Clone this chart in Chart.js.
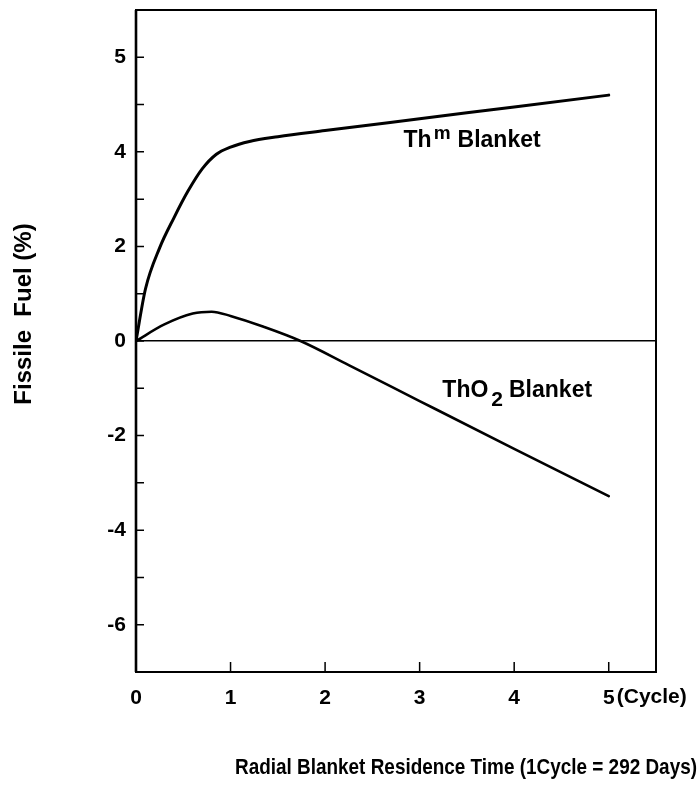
<!DOCTYPE html>
<html>
<head>
<meta charset="utf-8">
<script src="https://cdn.jsdelivr.net/npm/chart.js@4"></script>
<style>
  html, body { margin: 0; background: #fff; }
</style>
</head>
<body>
<canvas id="chart" width="700" height="786"></canvas>
<script>
// Fissile fuel (%) against radial blanket residence time (cycles)

// Th metal blanket curve
const thmCycles = [0, 0.1, 0.25, 0.4, 0.55, 0.7, 0.85, 1.0, 1.2, 1.5, 2, 3, 4, 5]
const thmFuel = [0, 1.1, 1.97, 2.6, 3.17, 3.64, 3.95, 4.1, 4.22, 4.32, 4.45, 4.7, 4.95, 5.2]

// ThO2 blanket curve
const tho2Cycles = [0, 0.3, 0.6, 0.8, 1.0, 1.35, 1.74, 2.25, 3, 4, 5]
const tho2Fuel = [0, 0.35, 0.58, 0.62, 0.53, 0.3, 0, -0.51, -1.27, -2.28, -3.28]

// Axis ticks and the labels printed next to them
const xTicks = [0, 1, 2, 3, 4, 5]
const yTicks = [-6, -5, -4, -3, -2, -1, 0, 1, 2, 3, 4, 5, 6]
const yTickLabels = { "-6": "-6", "-4": "-4", "-2": "-2", "0": "0", "2": "2", "4": "4", "6": "5" }

const FONT = "'Liberation Sans', Arial, sans-serif"

const toPoints = (xs, ys) => xs.map((x, i) => ({ x: x, y: ys[i] }))

// Draws the frame, inward tick marks and all the lettering
const paperPlugin = {
  id: "paper",
  afterDatasetsDraw(chart) {
    const ctx = chart.ctx
    const a = chart.chartArea
    const x = chart.scales.x
    const y = chart.scales.y
    ctx.save()
    ctx.strokeStyle = "#000"
    ctx.lineWidth = 2
    ctx.strokeRect(a.left, a.top, a.right - a.left, a.bottom - a.top)
    ctx.lineWidth = 2.6
    ctx.beginPath()
    ctx.moveTo(a.left, a.top)
    ctx.lineTo(a.left, a.bottom)
    ctx.stroke()

    // tick marks pointing into the plot
    ctx.lineWidth = 1.5
    ctx.beginPath()
    for (const v of yTicks) {
      const p = y.getPixelForValue(v)
      ctx.moveTo(a.left, p)
      ctx.lineTo(a.left + 8, p)
    }
    for (const v of xTicks) {
      if (v === 0) continue
      const p = x.getPixelForValue(v)
      ctx.moveTo(p, a.bottom)
      ctx.lineTo(p, a.bottom - 10)
    }
    ctx.stroke()

    ctx.fillStyle = "#000"
    ctx.textBaseline = "middle"
    ctx.textAlign = "left"

    // "(Cycle)" after the last x tick label
    ctx.font = "bold 21px " + FONT
    ctx.fillText("(Cycle)", x.getPixelForValue(5) + 8, a.bottom + 25)

    // curve labels
    const drawLabel = (parts, px, py) => {
      let cx = px
      for (const part of parts) {
        ctx.font = "bold " + (part.size || 23) + "px " + FONT
        ctx.fillText(part.text, cx, py + (part.shift || 0))
        cx += ctx.measureText(part.text).width + (part.gap || 0)
      }
    }
    drawLabel([{ text: "Th", gap: 2 }, { text: "m", size: 19, shift: -7, gap: 7 }, { text: "Blanket" }],
      x.getPixelForValue(2.83), y.getPixelForValue(4.23))
    drawLabel([{ text: "ThO", gap: 3 }, { text: "2", size: 21, shift: 9, gap: 6 }, { text: "Blanket" }],
      x.getPixelForValue(3.24), y.getPixelForValue(-1.06))

    // axis titles
    ctx.font = "bold 22px " + FONT
    ctx.fillText("Radial Blanket Residence Time (1Cycle = 292 Days)", 235, 768, 462)

    ctx.translate(24, 314)
    ctx.rotate(-Math.PI / 2)
    ctx.textAlign = "center"
    ctx.font = "bold 24px " + FONT
    ctx.fillText("Fissile  Fuel (%)", 0, 0)
    ctx.restore()
  }
}

new Chart(document.getElementById("chart"), {
  type: "line",
  plugins: [paperPlugin],
  data: {
    datasets: [
      {
        label: "Thm Blanket",
        data: toPoints(thmCycles, thmFuel),
        borderColor: "#000",
        borderWidth: 3,
        pointRadius: 0,
        cubicInterpolationMode: "monotone",
        borderCapStyle: "round"
      },
      {
        label: "ThO2 Blanket",
        data: toPoints(tho2Cycles, tho2Fuel),
        borderColor: "#000",
        borderWidth: 2.6,
        pointRadius: 0,
        cubicInterpolationMode: "monotone",
        borderCapStyle: "round"
      }
    ]
  },
  options: {
    responsive: false,
    animation: false,
    layout: { padding: { top: 10, right: 44, left: 0, bottom: 0 } },
    plugins: {
      legend: { display: false },
      tooltip: { enabled: false }
    },
    scales: {
      x: {
        type: "linear",
        min: 0,
        max: 5.5,
        afterFit: (scale) => {
          scale.height = 114
          scale.paddingLeft = 0
          scale.paddingRight = 0
        },
        afterBuildTicks: (scale) => { scale.ticks = xTicks.map(v => ({ value: v })) },
        grid: { display: false },
        border: { display: false },
        ticks: {
          color: "#000",
          padding: 6,
          font: { family: FONT, size: 21, weight: "bold" },
          callback: (v) => String(v)
        }
      },
      y: {
        type: "linear",
        min: -7,
        max: 7,
        afterFit: (scale) => {
          scale.width = 136
          scale.paddingTop = 0
          scale.paddingBottom = 0
        },
        afterBuildTicks: (scale) => { scale.ticks = yTicks.map(v => ({ value: v })) },
        grid: {
          drawTicks: false,
          color: (c) => (c.tick && c.tick.value === 0 ? "#000" : "rgba(0,0,0,0)"),
          lineWidth: 1.5
        },
        border: { display: false },
        ticks: {
          color: "#000",
          padding: 10,
          font: { family: FONT, size: 21, weight: "bold" },
          callback: (v) => yTickLabels[String(v)] || ""
        }
      }
    }
  }
})
</script>
</body>
</html>
